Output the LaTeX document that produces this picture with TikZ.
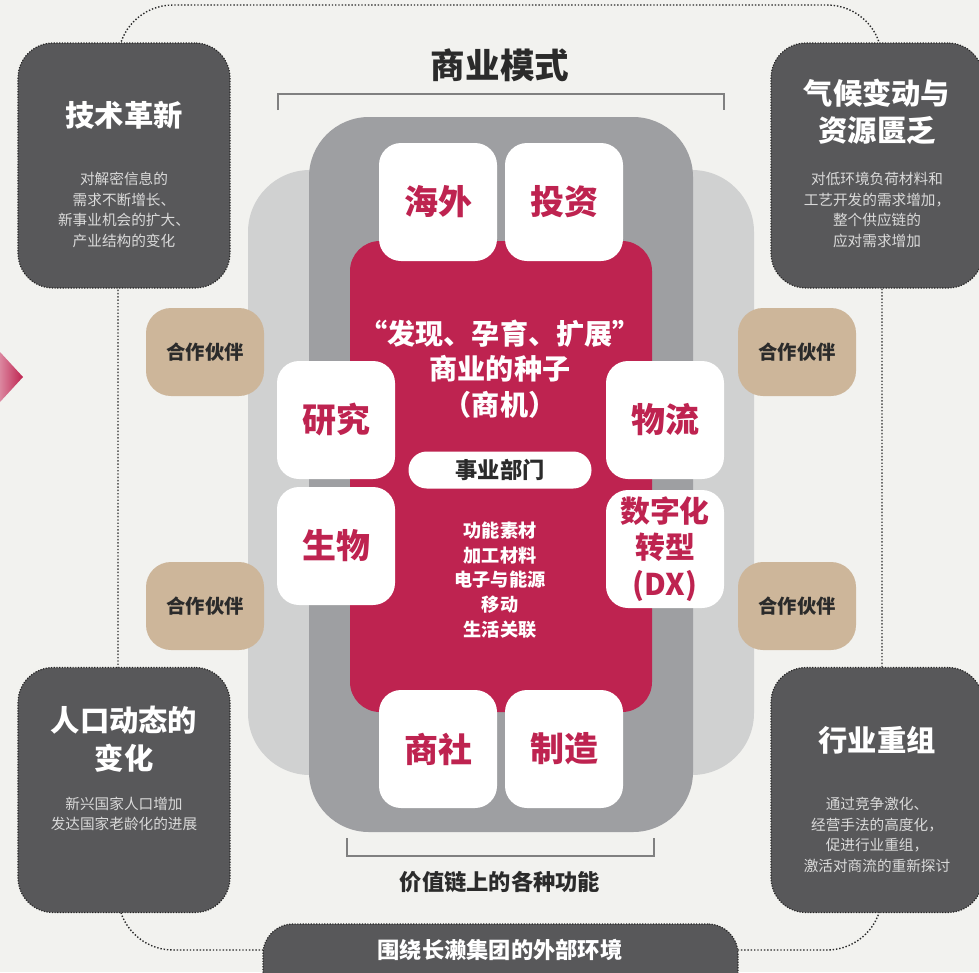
\documentclass[tikz,border=0pt]{standalone}
\usepackage{fontspec}
\setmainfont{Noto Sans CJK SC}
\usepackage{tikz}
\usetikzlibrary{positioning}
\definecolor{nsbg}{HTML}{F2F2EF}
\definecolor{nsdark}{HTML}{58585A}
\definecolor{nsred}{HTML}{BE2350}
\definecolor{nsgray}{HTML}{9E9FA2}
\definecolor{nslight}{HTML}{D0D1D1}
\definecolor{nstan}{HTML}{CDB69A}
\definecolor{nsink}{HTML}{2B2B2B}
\definecolor{nsdesc}{HTML}{DADADA}

\begin{document}
\begin{tikzpicture}[x=0.3mm,y=-0.3mm,
  envbox/.style={fill=nsdark,draw=black!85,dash pattern=on 1pt off 1.3pt,line width=1pt,rounded corners=1.05cm,minimum width=6.36cm,minimum height=7.35cm},
  envtitle/.style={text=white,font=\fontsize{25}{32}\selectfont\bfseries,align=center},
  envdesc/.style={text=nsdesc,font=\fontsize{12.5}{17.5}\selectfont,align=center},
  fnbox/.style={fill=white,rounded corners=0.66cm,minimum width=3.54cm,minimum height=3.54cm,text=nsred,font=\fontsize{29}{32}\selectfont\bfseries,align=center},
  partner/.style={fill=nstan,rounded corners=0.75cm,minimum width=3.54cm,minimum height=2.64cm,text=nsink,font=\fontsize{16.5}{20}\selectfont\bfseries},
  caption/.style={text=nsink,font=\fontsize{19}{22}\selectfont\bfseries},
  bracket/.style={draw=black!50,line width=0.9pt}
]
\useasboundingbox (0,0) rectangle (979,972);
\fill[nsbg] (0,0) rectangle (979,972);

% outer environment loop
\draw[nsink,dash pattern=on 1.2pt off 1.6pt,line width=1.2pt,rounded corners=1.65cm] (118,5) rectangle (882,950);
\shade[left color=nsred!55!white,right color=nsred] (0,352) -- (23,377) -- (0,402) -- cycle;

% business model layers
\fill[nslight,rounded corners=1.86cm] (248,170) rectangle (754,775);
\fill[nsgray,rounded corners=1.8cm] (309,117) rectangle (693,832);
\fill[nsred,rounded corners=0.9cm] (350,241) rectangle (652,712);

% value chain functions
\node[fnbox] (abroad) at (438,202) {海外};
\node[fnbox] (invest) at (564,202) {投资};
\node[fnbox] (research) at (336,420) {研究};
\node[fnbox] (bio) at (336,546) {生物};
\node[fnbox] (logi) at (665,420) {物流};
\node[fnbox,font=\fontsize{25.5}{31}\selectfont\bfseries] (dx) at (665,549) {数字化\\转型\\(DX)};
\node[fnbox] (trading) at (438,749) {商社};
\node[fnbox] (making) at (564,749) {制造};

% seeds and divisions
\node[text=white,font=\fontsize{24}{30.5}\selectfont\bfseries,align=center] (seed) at (500,369) {“发现、孕育、扩展”\\商业的种子\\（商机）};
\node[fill=white,rounded corners=0.55cm,minimum width=5.49cm,minimum height=1.11cm,text=nsink,font=\fontsize{19}{22}\selectfont\bfseries] (division) at (500,470) {事业部门};
\node[text=white,font=\fontsize{15.5}{21}\selectfont\bfseries,align=center] (fields) at (500,580) {功能素材\\加工材料\\电子与能源\\移动\\生活关联};

% partners
\node[partner] (ptl) at (205,352) {合作伙伴};
\node[partner] (pbl) at (205,606) {合作伙伴};
\node[partner] (ptr) at (797,352) {合作伙伴};
\node[partner] (pbr) at (797,606) {合作伙伴};

% external environment
\node[envbox] (tech) at (124,165.5) {};
\node[envtitle] (techtitle) at (124,115) {技术革新};
\node[envdesc] (techdesc) at (124,210) {对解密信息的\\需求不断增长、\\新事业机会的扩大、\\产业结构的变化};

\node[envbox] (climate) at (877,165.5) {};
\node[envtitle] (climatetitle) at (877,112) {气候变动与\\资源匮乏};
\node[envdesc] (climatedesc) at (877,210) {对低环境负荷材料和\\工艺开发的需求增加，\\整个供应链的\\应对需求增加};

\node[envbox] (people) at (124,790) {};
\node[envtitle] (peopletitle) at (124,739) {人口动态的\\变化};
\node[envdesc] (peopledesc) at (124,814) {新兴国家人口增加\\发达国家老龄化的进展};

\node[envbox] (industry) at (877,790) {};
\node[envtitle] (industrytitle) at (877,740) {行业重组};
\node[envdesc] (industrydesc) at (877,835) {通过竞争激化、\\经营手法的高度化，\\促进行业重组，\\激活对商流的重新探讨};

\node[envbox,minimum width=14.25cm,minimum height=2.4cm,rounded corners=0.9cm] (outside) at (500.5,964) {};
\node[text=white,font=\fontsize{19}{22}\selectfont\bfseries] (outsidetext) at (500,950) {围绕长濑集团的外部环境};

% captions
\node[caption,font=\fontsize{29.5}{32}\selectfont\bfseries] (model) at (500,65) {商业模式};
\draw[bracket] (278,110) |- (724,94) -- (724,110);
\node[caption] (chain) at (500,882) {价值链上的各种功能};
\draw[bracket] (347,838) |- (654,856) -- (654,838);
\end{tikzpicture}
\end{document}
